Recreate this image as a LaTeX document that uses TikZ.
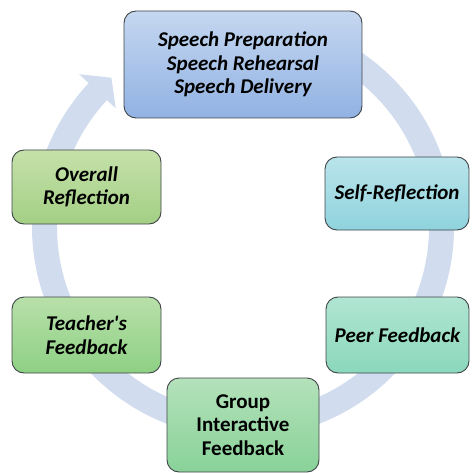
\documentclass[tikz,border=0pt]{standalone}
\usepackage{fontspec}
\setmainfont{Carlito}
\usetikzlibrary{calc}
\definecolor{ringc}{HTML}{D1DCEE}
\definecolor{edgec}{HTML}{3F4448}
\tikzset{
  stage/.style={draw=edgec, line width=0.9pt, rounded corners=12pt, align=center,
    inner sep=0pt, font=\fontsize{21}{23.5}\selectfont\bfseries\itshape, text=black},
  stageup/.style={stage, font=\fontsize{21}{23.5}\selectfont\bfseries},
  bluebox/.style={top color={rgb,255:red,197;green,215;blue,240}, bottom color={rgb,255:red,145;green,178;blue,227}},
  tealbox/.style={top color={rgb,255:red,186;green,228;blue,235}, bottom color={rgb,255:red,143;green,211;blue,221}},
  mintbox/.style={top color={rgb,255:red,176;green,229;blue,210}, bottom color={rgb,255:red,139;green,216;blue,188}},
  greenbox/.style={top color={rgb,255:red,180;green,225;blue,186}, bottom color={rgb,255:red,137;green,210;blue,153}},
  leafbox/.style={top color={rgb,255:red,184;green,224;blue,170}, bottom color={rgb,255:red,142;green,208;blue,132}},
  olivebox/.style={top color={rgb,255:red,197;green,225;blue,170}, bottom color={rgb,255:red,163;green,207;blue,132}}
}
\begin{document}
\begin{tikzpicture}[x=1pt,y=-1pt]
\useasboundingbox (0,0) rectangle (471,473);
\coordinate (hub) at (243,227);
% circular arrow running clockwise behind the stages
\fill[ringc] ($(hub)+(-100:211)$) arc[start angle=-100,end angle=223,radius=211]
  -- ($(hub)+(223:224)$) -- ($(hub)+(228.6:199)$) -- ($(hub)+(223:174)$)
  -- ($(hub)+(223:186)$) arc[start angle=223,end angle=-100,radius=186] -- cycle;
% stages
\node[stage, bluebox, minimum width=238pt, minimum height=107pt] (speech) at (243,64.5)
  {Speech Preparation\\Speech Rehearsal\\Speech Delivery};
\node[stage, tealbox, minimum width=144pt, minimum height=73pt] (self) at (397,193.5)
  {Self-Reflection};
\node[stage, mintbox, minimum width=143pt, minimum height=76pt] (peer) at (397.5,335)
  {Peer Feedback};
\node[stageup, greenbox, minimum width=152pt, minimum height=94pt] (group) at (243,425)
  {Group\\Interactive\\Feedback};
\node[stage, leafbox, minimum width=149pt, minimum height=76pt] (teacher) at (86.5,335)
  {Teacher\textquotesingle s\\Feedback};
\node[stage, olivebox, minimum width=149pt, minimum height=74pt] (overall) at (86.5,187)
  {Overall\\Reflection};
\end{tikzpicture}
\end{document}
